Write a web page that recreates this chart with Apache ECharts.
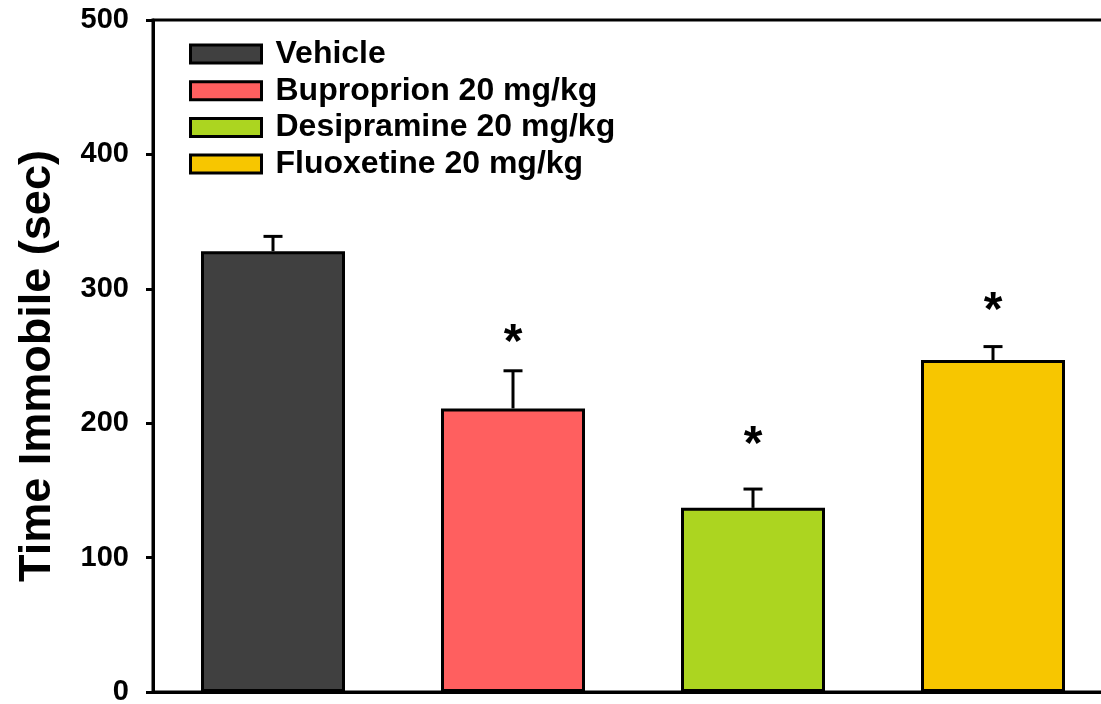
<!DOCTYPE html>
<html>
<head>
<meta charset="utf-8">
<script src="https://cdn.jsdelivr.net/npm/echarts@6/dist/echarts.min.js"></script>
<style>
  html, body { margin: 0; padding: 0; background: #fff; }
  #chart { width: 1101px; height: 704px; }
</style>
</head>
<body>
<div id="chart"></div>
<script>
const groups = ["Vehicle", "Buproprion 20 mg/kg", "Desipramine 20 mg/kg", "Fluoxetine 20 mg/kg"]
const means = [328, 211, 137, 247]
const errors = [11, 28, 14, 10]
const starY = [null, 259, 183, 283]
const colors = ["#404040", "#ff5f5f", "#acd520", "#f7c600"]
const yTicks = [0, 100, 200, 300, 400, 500]

const font = "'Liberation Sans', Arial, sans-serif"
const chart = echarts.init(document.getElementById("chart"))

const barSeries = groups.map((name, i) => ({
  name: name,
  type: "bar",
  stack: "all",
  barWidth: 144,
  data: groups.map((g, j) => (j === i ? means[j] : "-")),
  itemStyle: { color: colors[i], borderColor: "#000", borderWidth: 3 },
  emphasis: { disabled: true },
  z: 2,
}))

function renderError(params, api) {
  const i = api.value(0)
  const top = api.coord([i, api.value(1) + api.value(2)])
  const base = api.coord([i, api.value(1)])
  const half = 9.5
  const style = { stroke: "#000", lineWidth: 3 }
  return {
    type: "group",
    children: [
      { type: "line", shape: { x1: top[0], y1: base[1], x2: top[0], y2: top[1] }, style: style },
      { type: "line", shape: { x1: top[0] - half, y1: top[1], x2: top[0] + half, y2: top[1] }, style: style },
    ],
  }
}

function renderStar(params, api) {
  const p = api.coord([api.value(0), api.value(1)])
  return {
    type: "text",
    x: p[0],
    y: p[1],
    style: {
      text: "*",
      fill: "#000",
      font: "bold 48px " + font,
      align: "center",
      verticalAlign: "middle",
    },
  }
}

chart.setOption({
  animation: false,
  backgroundColor: "#fff",
  grid: {
    left: 153,
    top: 20,
    width: 960,
    height: 672,
    outerBoundsMode: "none",
    containLabel: false,
    show: true,
    borderColor: "#000",
    borderWidth: 3,
    backgroundColor: "transparent",
  },
  legend: {
    orient: "vertical",
    left: 184,
    top: 33,
    itemWidth: 71,
    itemHeight: 18,
    itemGap: 4.7,
    icon: "rect",
    selectedMode: false,
    itemStyle: { borderColor: "#000", borderWidth: 3 },
    textStyle: {
      fontFamily: font,
      fontWeight: "bold",
      fontSize: 32,
      lineHeight: 30,
      color: "#000",
      padding: [0, 0, 0, 9],
    },
    data: groups,
  },
  xAxis: {
    type: "category",
    data: groups,
    axisLine: { lineStyle: { color: "#000", width: 3 } },
    axisTick: { show: false },
    axisLabel: { show: false },
    splitLine: { show: false },
  },
  yAxis: {
    type: "value",
    min: yTicks[0],
    max: yTicks[yTicks.length - 1],
    interval: 100,
    name: "Time Immobile (sec)",
    nameLocation: "middle",
    nameRotate: 90,
    nameGap: 93,
    nameTextStyle: {
      fontFamily: font,
      fontWeight: "bold",
      fontSize: 45,
      color: "#000",
      padding: [0, 20, 0, 0],
    },
    axisLine: { show: true, lineStyle: { color: "#000", width: 3 } },
    axisTick: { show: true, length: 7, lineStyle: { color: "#000", width: 3 } },
    axisLabel: { margin: 24, fontFamily: font, fontWeight: "bold", fontSize: 29, color: "#000" },
    splitLine: { show: false },
  },
  series: [
    ...barSeries,
    {
      type: "custom",
      renderItem: renderError,
      data: means.map((m, i) => [i, m, errors[i]]),
      z: 1,
      silent: true,
    },
    {
      type: "custom",
      renderItem: renderStar,
      data: starY.map((y, i) => [i, y]).filter((d) => d[1] !== null),
      z: 3,
      silent: true,
    },
  ],
})
</script>
</body>
</html>
